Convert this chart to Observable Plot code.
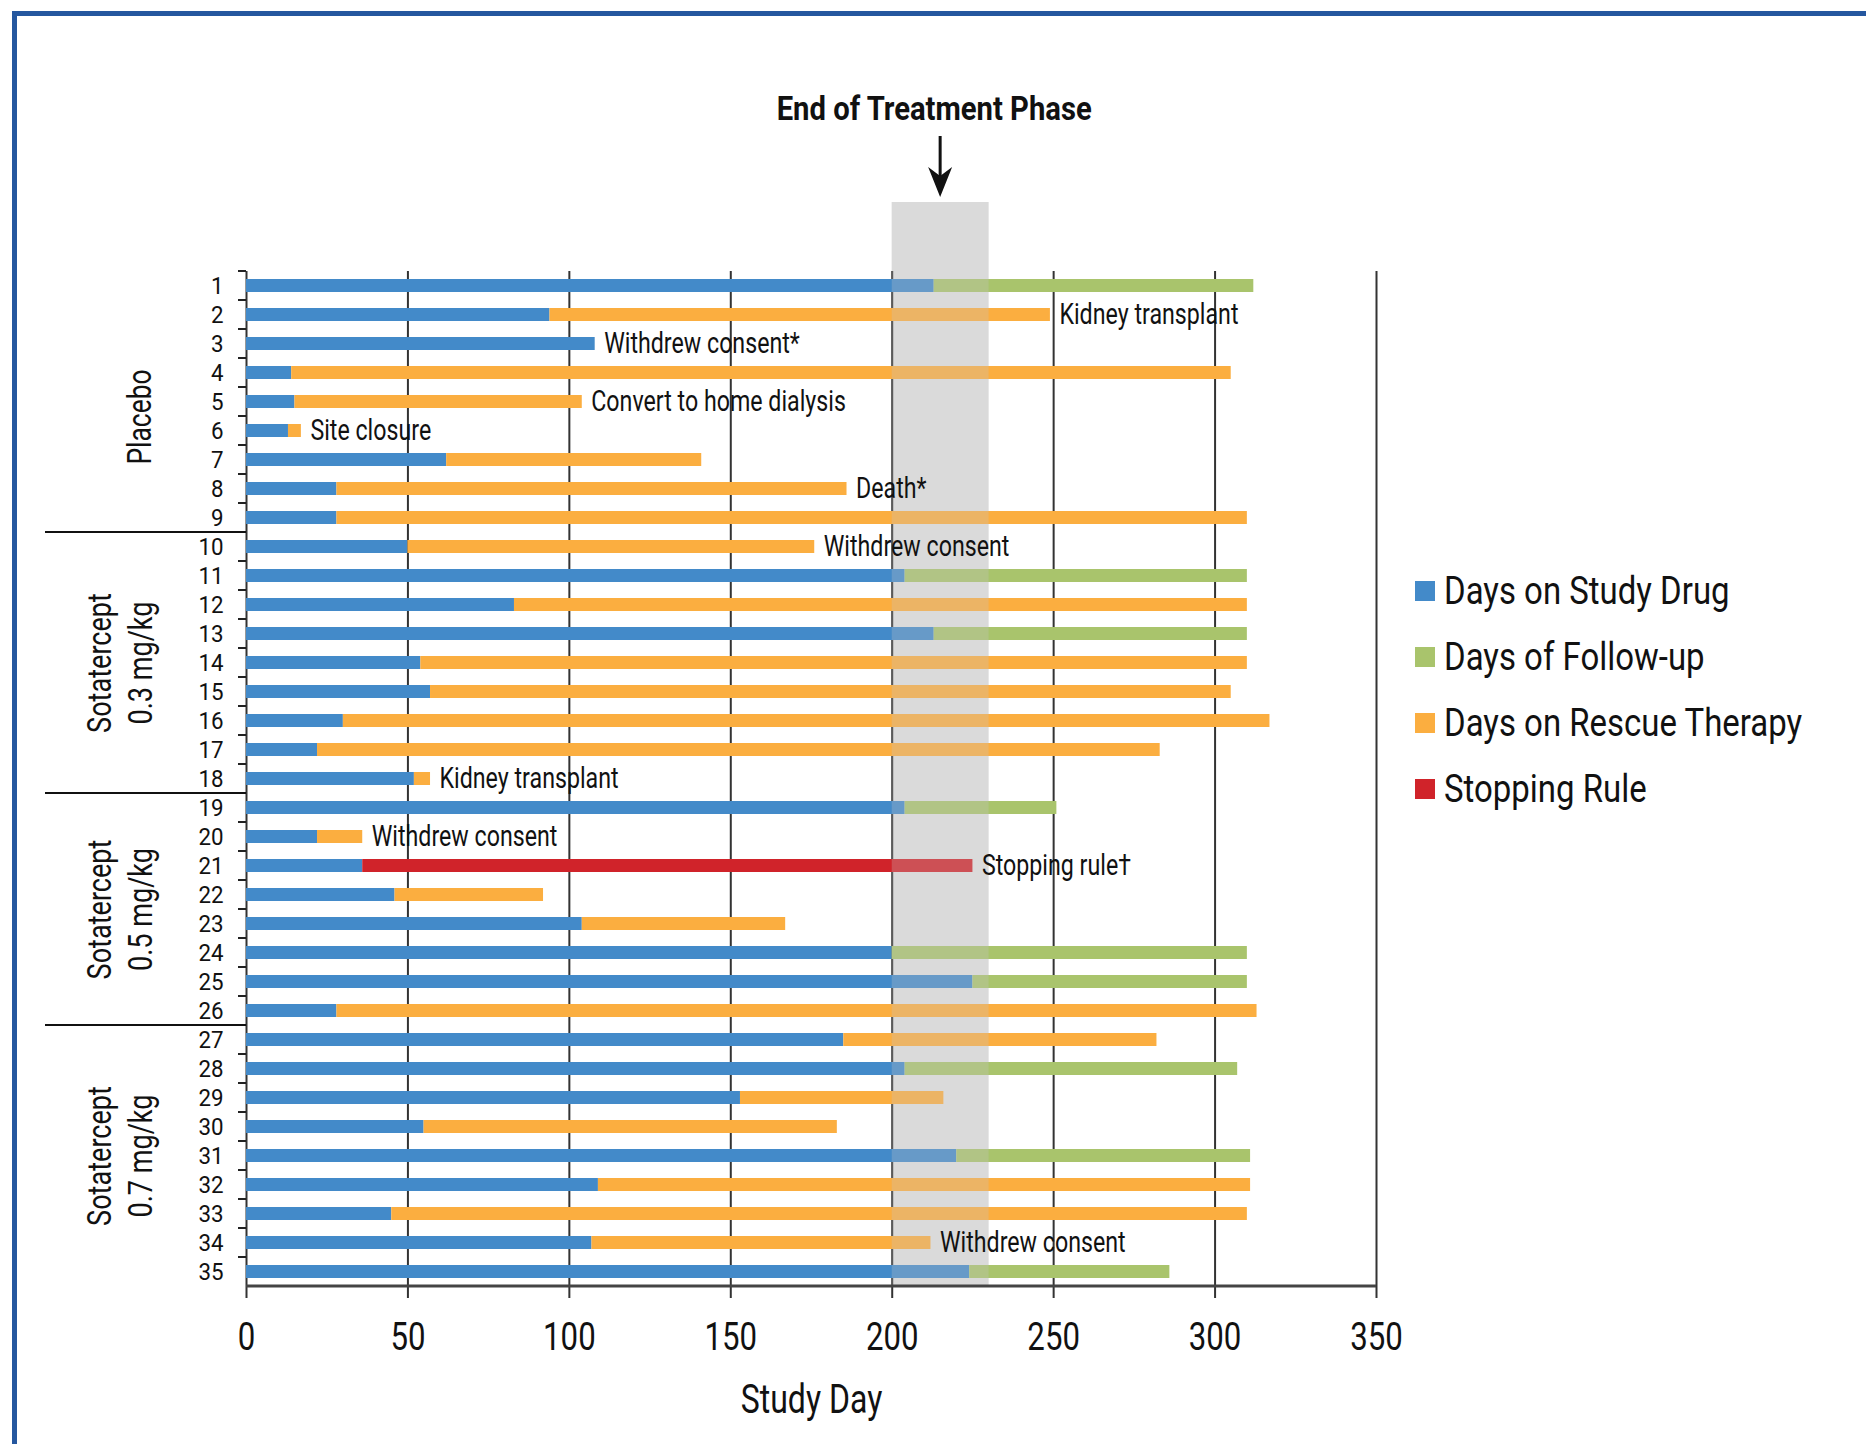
<!DOCTYPE html>
<html>
<head>
<meta charset="utf-8">
<script src="https://cdn.jsdelivr.net/npm/d3@7"></script>
<script src="https://cdn.jsdelivr.net/npm/@observablehq/plot@0.6"></script>
<style>
  html, body { margin: 0; padding: 0; background: #fff; }
  #wrap { position: relative; width: 1866px; height: 1444px; overflow: hidden; background: #fff; }
  #border { position: absolute; left: 12px; top: 11px; right: -20px; bottom: -20px;
            border-top: 5px solid #25579f; border-left: 5px solid #25579f; pointer-events: none; }
  #chart { position: absolute; left: 0; top: 0; }
  #legend { position: absolute; left: 1415px; top: 558px; color: #111;
            font-family: Roboto, sans-serif; font-size: 39px; }
  #legend .item { display: flex; align-items: center; height: 66px; white-space: nowrap; }
  #legend .sw { width: 20px; height: 20px; margin-right: 9px; flex: none; }
  #legend span { display: inline-block; transform: scaleX(0.845); transform-origin: left center; }
</style>
</head>
<body>
<div id="wrap">
  <div id="chart"></div>
  <div id="legend"></div>
  <div id="border"></div>
</div>
<script>
// ---------------- data ----------------
const patients = d3.range(1, 36);
const drugEnd = [213, 94, 108, 14, 15, 13, 62, 28, 28, 50,
                 204, 83, 213, 54, 57, 30, 22, 52,
                 204, 22, 36, 46, 104, 200, 225, 28,
                 185, 204, 153, 55, 220, 109, 45, 107, 224];
const afterEnd = [312, 249, null, 305, 104, 17, 141, 186, 310, 176,
                  310, 310, 310, 310, 305, 317, 283, 57,
                  251, 36, 225, 92, 167, 310, 310, 313,
                  282, 307, 216, 183, 311, 311, 310, 212, 286];
// F = follow-up, R = rescue therapy, S = stopping rule
const afterType = ["F","R",null,"R","R","R","R","R","R","R",
                   "F","R","F","R","R","R","R","R",
                   "F","R","S","R","R","F","F","R",
                   "R","F","R","R","F","R","R","R","F"];
const notePatients = [2, 3, 5, 6, 8, 10, 18, 20, 21, 34];
const noteTexts = ["Kidney transplant", "Withdrew consent*", "Convert to home dialysis", "Site closure",
                   "Death*", "Withdrew consent", "Kidney transplant", "Withdrew consent",
                   "Stopping rule\u2020", "Withdrew consent"];
const seriesNames = ["Days on Study Drug", "Days of Follow-up", "Days on Rescue Therapy", "Stopping Rule"];
const seriesColors = ["#438ac9", "#a9c46c", "#fbae40", "#d0232a"];
const typeName = {F: "Days of Follow-up", R: "Days on Rescue Therapy", S: "Stopping Rule"};
const groupNames = ["Placebo", "Sotatercept\n0.3 mg/kg", "Sotatercept\n0.5 mg/kg", "Sotatercept\n0.7 mg/kg"];
const groupFirst = [1, 10, 19, 27];
const xTicks = [0, 50, 100, 150, 200, 250, 300, 350];
const phaseStart = 200, phaseEnd = 230, phaseArrow = 215;
const titleText = "End of Treatment Phase";
const xLabel = "Study Day";

// ---------------- tables ----------------
const segments = [];
patients.forEach((p, i) => {
  segments.push({patient: p, type: seriesNames[0], x1: 0, x2: drugEnd[i]});
  if (afterType[i]) segments.push({patient: p, type: typeName[afterType[i]], x1: drugEnd[i], x2: afterEnd[i]});
});
const notes = notePatients.map((p, k) => ({
  patient: p, text: noteTexts[k],
  x: afterEnd[p - 1] != null ? afterEnd[p - 1] : drugEnd[p - 1]
}));
const band = [{x1: phaseStart, x2: phaseEnd}];

const FONT = "Roboto, sans-serif";
const W = 1866, H = 1444, ML = 246, MR = 490, MT = 271, MB = 158;

// custom helper marks (drawn through the plot's scales)
function bottomAxisLine(index, scales, values, dim) {
  const g = d3.create("svg:g");
  g.append("line").attr("x1", dim.marginLeft).attr("x2", dim.width - dim.marginRight)
    .attr("y1", dim.height - dim.marginBottom).attr("y2", dim.height - dim.marginBottom)
    .attr("stroke", "#444").attr("stroke-width", 3);
  return g.node();
}
function yBoundaryTicks(index, scales, values, dim) {
  const g = d3.create("svg:g");
  for (const p of patients) {
    const y = scales.y(p);
    g.append("line").attr("x1", dim.marginLeft - 8).attr("x2", dim.marginLeft)
      .attr("y1", y).attr("y2", y).attr("stroke", "#222").attr("stroke-width", 2);
  }
  for (const p of groupFirst.slice(1)) {
    const y = scales.y(p);
    g.append("line").attr("x1", 45).attr("x2", dim.marginLeft)
      .attr("y1", y).attr("y2", y).attr("stroke", "#111").attr("stroke-width", 2);
  }
  return g.node();
}
function phaseArrowMark(index, scales, values, dim) {
  const g = d3.create("svg:g");
  const x = scales.x(phaseArrow);
  const yTop = 136, yTip = 197;
  g.append("line").attr("x1", x).attr("x2", x).attr("y1", yTop).attr("y2", yTip - 20)
    .attr("stroke", "#111").attr("stroke-width", 3);
  g.append("path")
    .attr("d", `M${x - 12},${yTip - 30} L${x},${yTip - 21} L${x + 12},${yTip - 30} L${x},${yTip} Z`)
    .attr("fill", "#111");
  return g.node();
}

const groupText = (k, row, dx, dy) => Plot.text([groupNames[k]], {
  y: [row], text: d => d, frameAnchor: "left", textAnchor: "middle", rotate: -90,
  dx, dy, fontSize: 33, lineHeight: 1.24, fill: "#111"
});

const chart = Plot.plot({
  width: W, height: H,
  marginLeft: ML, marginRight: MR, marginTop: MT, marginBottom: MB,
  style: {fontFamily: FONT, color: "#111", background: "transparent"},
  x: {domain: [0, 350]},
  y: {type: "band", domain: patients, padding: 0},
  color: {domain: seriesNames, range: seriesColors},
  marks: [
    Plot.rect(band, {x1: "x1", x2: "x2", fill: "#e2e2e2", insetTop: -69}),
    Plot.ruleX(xTicks, {stroke: "#333", strokeWidth: 2, insetBottom: -12}),
    Plot.barX(segments, {x1: "x1", x2: "x2", y: "patient", fill: "type", insetTop: 8, insetBottom: 8}),
    Plot.rect(band, {x1: "x1", x2: "x2", fill: "#c4c4c4", fillOpacity: 0.28, insetTop: -69}),
    bottomAxisLine,
    yBoundaryTicks,
    Plot.axisX({ticks: xTicks, tickSize: 0, tickPadding: 36, fontSize: 39, label: null, tickFormat: d3.format("d")}),
    Plot.axisY({tickSize: 0, tickPadding: 23, fontSize: 24, label: null}),
    Plot.text(notes, {x: "x", y: "patient", text: "text", textAnchor: "start", dx: 9, fontSize: 29, fill: "#111"}),
    groupText(0, groupFirst[0] + 4, -109, 15),
    groupText(1, groupFirst[1] + 4, -128, 0),
    groupText(2, groupFirst[2] + 3, -128, 14.5),
    groupText(3, groupFirst[3] + 4, -128, 0),
    Plot.text([xLabel], {frameAnchor: "bottom", dy: 126, fontSize: 40, fill: "#111"}),
    Plot.text([titleText], {x: [phaseArrow - 2], frameAnchor: "top", dy: -176, fontSize: 34, fontWeight: "bold", fill: "#111"}),
    phaseArrowMark
  ]
});
document.getElementById("chart").appendChild(chart);

// condense the text horizontally (the original uses a condensed face)
function condense(el, k, target) {
  const len = el.getComputedTextLength();
  if (!len) return;
  el.setAttribute("textLength", target != null ? target : len * k);
  el.setAttribute("lengthAdjust", "spacingAndGlyphs");
}
chart.querySelectorAll("text").forEach(t => {
  const spans = t.querySelectorAll("tspan");
  const isTitle = t.textContent === titleText;
  const isYTick = !!t.closest('[aria-label="y-axis tick label"]');
  if (spans.length) spans.forEach(s => condense(s, 0.82));
  else condense(t, isYTick ? 0.93 : 0.8, isTitle ? 315 : null);
});

// legend
const legend = d3.select("#legend");
seriesNames.forEach((name, i) => {
  const item = legend.append("div").attr("class", "item");
  item.append("div").attr("class", "sw").style("background", seriesColors[i]);
  item.append("span").text(name);
});
</script>
</body>
</html>
